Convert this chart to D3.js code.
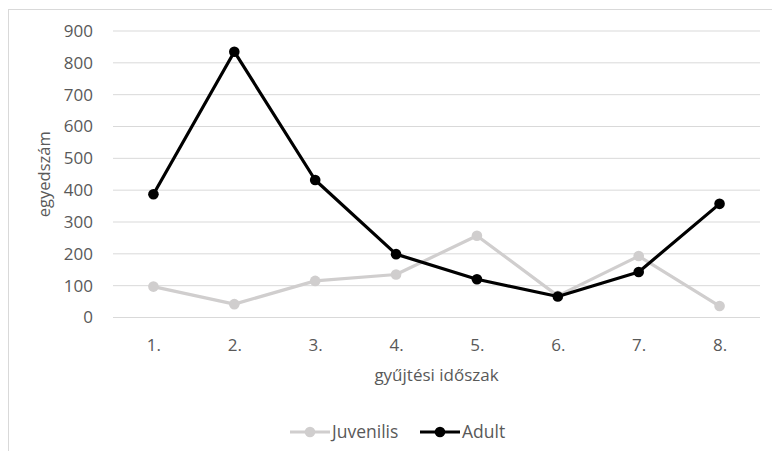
<!DOCTYPE html>
<html>
<head>
<meta charset="utf-8">
<script src="https://cdn.jsdelivr.net/npm/d3@7/dist/d3.min.js"></script>
<style>
  html, body { margin: 0; padding: 0; background: #fff; }
  svg { display: block; font-family: "Open Sans", "Noto Sans", sans-serif; }
</style>
</head>
<body>
<svg id="chart" width="772" height="451"></svg>
<script>
// Collection periods and counts per life stage
const periods = ["1.", "2.", "3.", "4.", "5.", "6.", "7.", "8."];
const juvenilis = [97, 42, 115, 135, 257, 68, 193, 36];
const adult = [387, 835, 432, 199, 120, 66, 143, 357];
const yTicks = [0, 100, 200, 300, 400, 500, 600, 700, 800, 900];
const seriesNames = ["Juvenilis", "Adult"];
const seriesColors = ["#d0cece", "#000000"];

const svg = d3.select("#chart");
const W = 772, H = 451;
const plot = { left: 113, right: 760, top: 31, bottom: 317.5 };
const textColor = "#595959";
const fontFamily = "\"Open Sans\", sans-serif";

// chart area frame (extends past the window on the right and bottom)
svg.append("rect")
  .attr("x", 8.5).attr("y", 9.5)
  .attr("width", W + 10).attr("height", H + 10)
  .attr("fill", "#fff").attr("stroke", "#d9d9d9").attr("stroke-width", 1);

const x = d3.scalePoint().domain(periods).range([plot.left, plot.right]).padding(0.5);
const y = d3.scaleLinear().domain([0, 900]).range([plot.bottom, plot.top]);

// horizontal gridlines
svg.append("g").selectAll("line").data(yTicks).join("line")
  .attr("x1", plot.left).attr("x2", plot.right)
  .attr("y1", d => y(d)).attr("y2", d => y(d))
  .attr("stroke", "#d9d9d9").attr("stroke-width", 1);

// y axis labels
const yAxis = d3.axisLeft(y).tickValues(yTicks).tickSize(0).tickPadding(20);
svg.append("g").attr("transform", `translate(${plot.left},0)`).call(yAxis)
  .call(g => g.select(".domain").remove())
  .call(g => g.selectAll("text").attr("fill", textColor).attr("font-size", 17)
    .attr("font-family", fontFamily));

// x axis labels
const xAxis = d3.axisBottom(x).tickSize(0).tickPadding(21);
svg.append("g").attr("transform", `translate(0,${plot.bottom})`).call(xAxis)
  .call(g => g.select(".domain").remove())
  .call(g => g.selectAll("text").attr("fill", textColor).attr("font-size", 17)
    .attr("font-family", fontFamily));

// axis titles
svg.append("text")
  .attr("x", (plot.left + plot.right) / 2).attr("y", 381)
  .attr("text-anchor", "middle").attr("fill", textColor).attr("font-size", 17)
  .text("gyűjtési időszak");
svg.append("text")
  .attr("transform", `translate(50,${(plot.top + plot.bottom) / 2}) rotate(-90)`)
  .attr("text-anchor", "middle").attr("fill", textColor).attr("font-size", 16.5)
  .text("egyedszám");

// series lines with markers
const line = d3.line().x((d, i) => x(periods[i])).y(d => y(d));
[juvenilis, adult].forEach((vals, k) => {
  const g = svg.append("g");
  g.append("path").datum(vals).attr("d", line)
    .attr("fill", "none").attr("stroke", seriesColors[k])
    .attr("stroke-width", 3.2).attr("stroke-linejoin", "round");
  g.selectAll("circle").data(vals).join("circle")
    .attr("cx", (d, i) => x(periods[i])).attr("cy", d => y(d))
    .attr("r", 5.3).attr("fill", seriesColors[k]);
});

// legend
const legendItems = [
  { name: seriesNames[0], color: seriesColors[0], x0: 290 },
  { name: seriesNames[1], color: seriesColors[1], x0: 420 }
];
const lg = svg.append("g");
legendItems.forEach(it => {
  lg.append("line").attr("x1", it.x0).attr("x2", it.x0 + 40)
    .attr("y1", 432).attr("y2", 432)
    .attr("stroke", it.color).attr("stroke-width", 3.2);
  lg.append("circle").attr("cx", it.x0 + 20).attr("cy", 432).attr("r", 5.3)
    .attr("fill", it.color);
  lg.append("text").attr("x", it.x0 + 42).attr("y", 437.5)
    .attr("fill", textColor).attr("font-size", 17.5).text(it.name);
});
</script>
</body>
</html>
